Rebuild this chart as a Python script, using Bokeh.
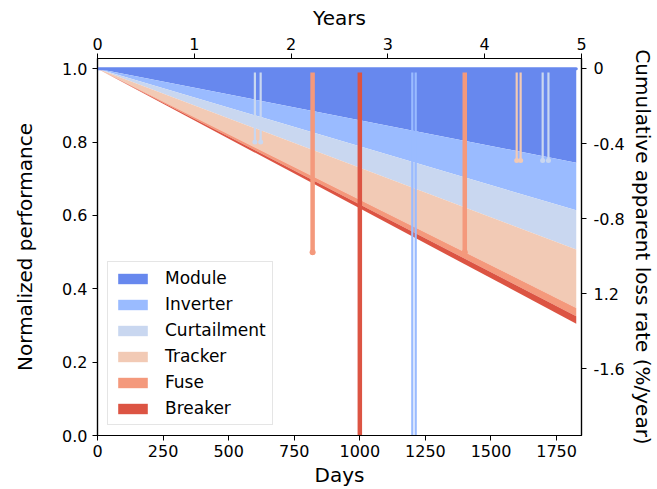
from bokeh.plotting import figure
from bokeh.models import Range1d, LinearAxis, FixedTicker, Legend, LegendItem, PrintfTickFormatter
from bokeh.embed import file_html
from bokeh.resources import INLINE

# ---- data ----
categories = ["Module", "Inverter", "Curtailment", "Tracker", "Fuse", "Breaker"]
colors = ["#6788ee", "#9abbff", "#c9d7f0", "#f2cab5", "#f4997c", "#dc5443"]
days = [0, 1825]
start_perf = 1.0
# cumulative lower edge of each band at the last day
end_bottom = [0.744, 0.614, 0.507, 0.348, 0.325, 0.305]

event_days = [600, 622, 820, 1000, 1200, 1213, 1400, 1598, 1613, 1697, 1719]
event_bottom = [0.8, 0.8, 0.5, 0.0, 0.0, 0.0, 0.5, 0.75, 0.75, 0.75, 0.75]
event_type = ["Curtailment", "Curtailment", "Fuse", "Breaker", "Inverter", "Inverter",
              "Fuse", "Tracker", "Tracker", "Curtailment", "Curtailment"]
event_top = 0.99

x_ticks = [0, 250, 500, 750, 1000, 1250, 1500, 1750]
y_ticks = [0.0, 0.2, 0.4, 0.6, 0.8, 1.0]
year_ticks = [0, 1, 2, 3, 4, 5]
loss_ticks = [0, -0.4, -0.8, -1.2, -1.6]
loss_labels = ["0", "-0.4", "-0.8", "1.2", "-1.6"]

FONT = "DejaVu Sans"
TICK_FS = "16px"
LABEL_FS = "20px"

p = figure(width=657, height=489,
           x_range=Range1d(0, 1845), y_range=Range1d(0, 1.028),
           output_backend="svg", toolbar_location=None,
           min_border_left=97, min_border_right=74, min_border_top=58, min_border_bottom=52)
p.extra_x_ranges = {"years": Range1d(0, 5)}
p.extra_y_ranges = {"loss": Range1d(-1.956, 0.053)}
p.xgrid.visible = False
p.ygrid.visible = False
p.outline_line_color = "black"
p.outline_line_width = 1.2
p.background_fill_color = "white"
p.border_fill_color = "white"

color_of = dict(zip(categories, colors))

# stacked bands
items = []
tops = [start_perf] + end_bottom[:-1]
for cat, col, top, bot in zip(categories, colors, tops, end_bottom):
    r = p.varea(x=days, y1=[start_perf, bot], y2=[start_perf, top], fill_color=col, fill_alpha=1.0)
    items.append(LegendItem(label=cat, renderers=[r]))

p.line(x=days, y=[start_perf, start_perf], line_color=colors[0], line_width=3, line_cap="round")

# event lines
for d, b, t in zip(event_days, event_bottom, event_type):
    single = t in ("Fuse", "Breaker")
    w = 4.5 if single else 2.2
    col = color_of[t]
    p.segment(x0=[d], y0=[event_top], x1=[d], y1=[b], line_color=col, line_width=w)
    if b > 0:
        p.scatter(x=[d], y=[b], size=6 if single else 5, marker="circle",
                  fill_color=col, line_color=None)

# axes styling
def style_axis(ax):
    ax.axis_line_color = "black"
    ax.axis_line_width = 1.2
    ax.major_tick_out = 5
    ax.major_tick_in = 0
    ax.minor_tick_out = 0
    ax.minor_tick_in = 0
    ax.major_tick_line_color = "black"
    ax.major_label_text_font = FONT
    ax.major_label_text_font_size = TICK_FS
    ax.major_label_text_color = "black"
    ax.axis_label_text_font = FONT
    ax.axis_label_text_font_size = LABEL_FS
    ax.axis_label_text_font_style = "normal"
    ax.axis_label_text_color = "black"

xa = p.xaxis[0]
xa.ticker = FixedTicker(ticks=x_ticks)
xa.axis_label = "Days"
style_axis(xa)
xa.major_label_standoff = 4
xa.axis_label_standoff = 3

ya = p.yaxis[0]
ya.ticker = FixedTicker(ticks=y_ticks)
ya.formatter = PrintfTickFormatter(format="%.1f")
ya.axis_label = "Normalized performance"
style_axis(ya)
ya.axis_label_standoff = 22

top_ax = LinearAxis(x_range_name="years", ticker=FixedTicker(ticks=year_ticks), axis_label="Years")
style_axis(top_ax)
top_ax.major_label_standoff = 4
top_ax.axis_label_standoff = 5
p.add_layout(top_ax, "above")

right_ax = LinearAxis(y_range_name="loss", ticker=FixedTicker(ticks=loss_ticks),
                      axis_label="Cumulative apparent loss rate (%/year)")
right_ax.major_label_overrides = {t: s for t, s in zip(loss_ticks, loss_labels)}
style_axis(right_ax)
right_ax.major_label_standoff = 7
right_ax.axis_label_standoff = 3
p.add_layout(right_ax, "right")

legend = Legend(items=items, location="bottom_left")
legend.label_text_font = FONT
legend.label_text_font_size = "17px"
legend.label_text_color = "black"
legend.glyph_width = 37
legend.glyph_height = 13
legend.label_height = 20
legend.label_standoff = 14
legend.spacing = 6
legend.padding = 6
legend.margin = 10
legend.border_line_color = "#cccccc"
legend.border_line_width = 1
legend.background_fill_color = "white"
legend.background_fill_alpha = 0.8
p.add_layout(legend)

open("out.html", "w").write(file_html(p, INLINE))
